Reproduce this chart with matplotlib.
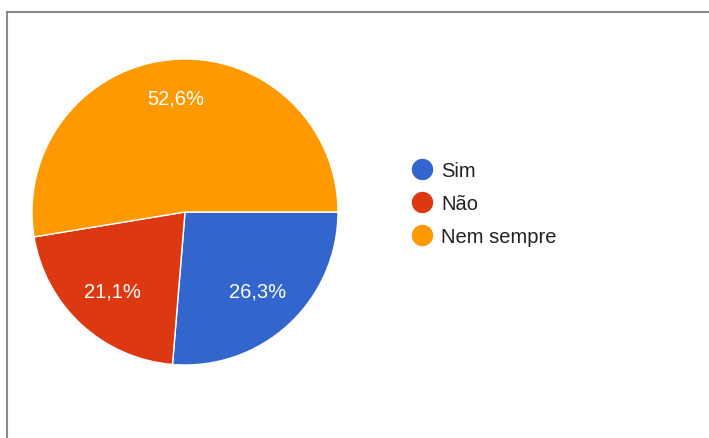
import matplotlib
matplotlib.use("Agg")
import matplotlib.pyplot as plt
from matplotlib.lines import Line2D
import numpy as np

labels = ["Sim", "Não", "Nem sempre"]
values = [26.3, 21.1, 52.6]
pct_labels = ["26,3%", "21,1%", "52,6%"]
colors = ["#3366CC", "#DC3912", "#FF9900"]

plt.rcParams['font.family'] = ['Liberation Sans', 'DejaVu Sans']

W, H = 709, 439
fig = plt.figure(figsize=(W / 100, H / 100), dpi=100)
fig.patch.set_facecolor("white")

cx, cy, r = 185, 213, 153
ax = fig.add_axes([(cx - r) / W, (H - cy - r) / H, 2 * r / W, 2 * r / H])
wedges, _ = ax.pie(values, colors=colors, startangle=0, counterclock=False,
                   wedgeprops=dict(edgecolor="white", linewidth=1.0))
ax.set_xlim(-1, 1)
ax.set_ylim(-1, 1)
ax.set_aspect("equal")
ax.axis("off")
for w in wedges:
    w.set_clip_on(False)

# percentage labels
dists = [0.70, 0.70, 0.75]
for w, txt, d in zip(wedges, pct_labels, dists):
    ang = np.deg2rad((w.theta1 + w.theta2) / 2)
    ax.text(d * np.cos(ang), d * np.sin(ang), txt, ha="center", va="center",
            color="white", fontsize=14.5)

# frame lines (top and left)
fig.add_artist(Line2D([6.5 / W, 1.0], [1 - 12.5 / H, 1 - 12.5 / H],
                      transform=fig.transFigure, color="#8a8a8a", linewidth=1.5))
fig.add_artist(Line2D([6.5 / W, 6.5 / W], [0, 1 - 12.5 / H],
                      transform=fig.transFigure, color="#8a8a8a", linewidth=1.5))

handles = [Line2D([], [], marker="o", linestyle="none", markersize=14.4,
                  markerfacecolor=c, markeredgecolor=c) for c in colors]
leg = fig.legend(handles, labels, loc="upper left",
                 bbox_to_anchor=(412 / W, 1 - 162 / H), frameon=False,
                 fontsize=14.5, handletextpad=0.45, labelspacing=0.7,
                 handlelength=1.0, borderpad=0, borderaxespad=0)
for t in leg.get_texts():
    t.set_color("#222222")

fig.savefig("out.png", dpi=100, facecolor="white")
